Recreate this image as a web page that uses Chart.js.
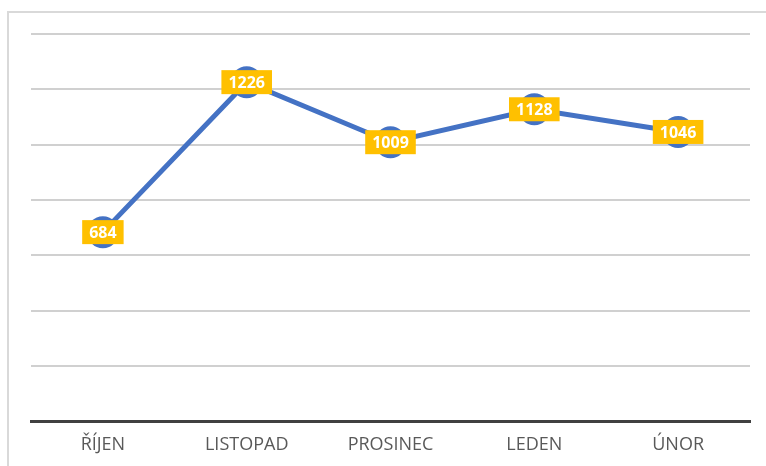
<!DOCTYPE html>
<html>
<head>
<meta charset="utf-8">
<script src="https://cdn.jsdelivr.net/npm/chart.js@4.4.1/dist/chart.umd.min.js"></script>
<style>
  html, body { margin: 0; padding: 0; background: #fff; }
  #wrap { position: relative; width: 766px; height: 466px; overflow: hidden; }
  #frame { position: absolute; left: 7px; top: 11px; width: 800px; height: 500px; border: 2px solid #d9d9d9; box-sizing: border-box; }
  canvas { position: absolute; left: 0; top: 0; }
</style>
</head>
<body>
<div id="wrap">
  <div id="frame"></div>
  <canvas id="line-chart" width="766" height="466"></canvas>
</div>
<script>
var mesice = ['ŘÍJEN', 'LISTOPAD', 'PROSINEC', 'LEDEN', 'ÚNOR'];
var hodnoty = [684, 1226, 1009, 1128, 1046];

// popisky hodnot ve zlutem ramecku
var stitky = {
  id: 'stitky',
  afterDatasetsDraw: function(chart) {
    var ctx = chart.ctx;
    var meta = chart.getDatasetMeta(0);
    ctx.save();
    ctx.font = 'bold 16px "Open Sans", sans-serif';
    ctx.textAlign = 'center';
    ctx.textBaseline = 'middle';
    meta.data.forEach(function(pt, i) {
      var txt = String(hodnoty[i]);
      var w = ctx.measureText(txt).width + 14;
      var h = 24;
      ctx.fillStyle = '#FFC000';
      ctx.fillRect(pt.x - w / 2, pt.y - h / 2, w, h);
      ctx.fillStyle = '#ffffff';
      ctx.fillText(txt, pt.x, pt.y + 1);
    });
    ctx.restore();
  }
};

var ctx = document.getElementById('line-chart');
var graf = new Chart(ctx, {
  type: 'line',
  data: {
    labels: mesice,
    datasets: [{
      data: hodnoty,
      borderColor: '#4472C4',
      backgroundColor: '#4472C4',
      borderWidth: 5,
      pointRadius: 16,
      pointBorderWidth: 0,
      pointBackgroundColor: '#4472C4',
      tension: 0
    }]
  },
  options: {
    responsive: false,
    animation: false,
    events: [],
    layout: { padding: { left: 31, right: 16, top: 34, bottom: -3 } },
    plugins: { legend: { display: false }, tooltip: { enabled: false } },
    scales: {
      x: {
        offset: true,
        grid: { display: false, drawTicks: false },
        border: { display: true, color: '#404040', width: 3 },
        ticks: { color: '#595959', padding: 13, font: { family: '"Open Sans", sans-serif', size: 18 } }
      },
      y: {
        min: 0,
        max: 1400,
        ticks: { stepSize: 200, display: false },
        grid: { color: '#d0d0d0', lineWidth: 2, drawTicks: false },
        border: { display: false }
      }
    }
  },
  plugins: [stitky]
});
</script>
</body>
</html>
